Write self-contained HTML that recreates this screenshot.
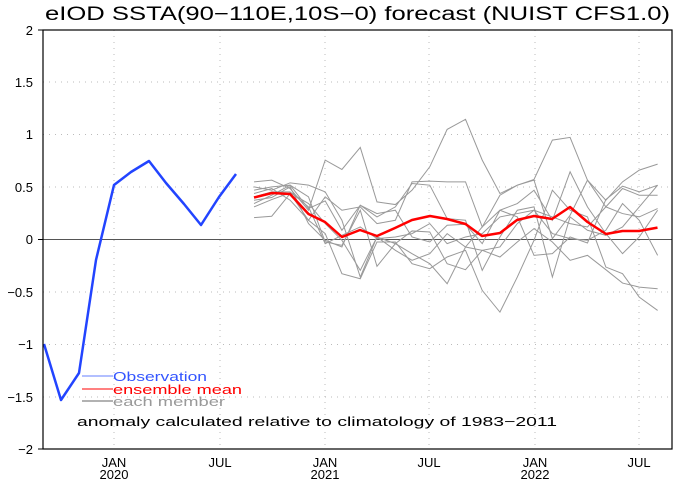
<!DOCTYPE html>
<html><head><meta charset="utf-8"><style>
html,body{margin:0;padding:0;background:#fff;}
svg{display:block;font-family:"Liberation Sans",sans-serif;}
</style></head><body>
<svg width="676" height="479" viewBox="0 0 676 479" xmlns="http://www.w3.org/2000/svg">
<rect width="676" height="479" fill="#fff"/>
<text x="45" y="20" font-size="19" fill="#000" textLength="625" lengthAdjust="spacingAndGlyphs">eIOD SSTA(90−110E,10S−0) forecast (NUIST CFS1.0)</text>
<g stroke="#bbb" stroke-width="1" stroke-dasharray="1,5">
<line x1="43" y1="82" x2="672" y2="82"/><line x1="43" y1="134.5" x2="672" y2="134.5"/><line x1="43" y1="187" x2="672" y2="187"/>
<line x1="43" y1="292" x2="672" y2="292"/><line x1="43" y1="344.5" x2="672" y2="344.5"/><line x1="43" y1="397" x2="672" y2="397"/>
<line x1="114" y1="30" x2="114" y2="449"/><line x1="220" y1="30" x2="220" y2="449"/><line x1="325" y1="30" x2="325" y2="449"/>
<line x1="429" y1="30" x2="429" y2="449"/><line x1="535" y1="30" x2="535" y2="449"/><line x1="639" y1="30" x2="639" y2="449"/>
</g>
<line x1="43" y1="239.5" x2="672" y2="239.5" stroke="#555" stroke-width="1"/>
<g fill="none" stroke="#999" stroke-width="1" transform="translate(240,110) scale(0.3341)">
<polyline vector-effect="non-scaling-stroke" points="42,215 95,210 150,235 205,300 255,150 305,178 360,112 410,275 465,283 515,240 568,170 620,58 675,28 725,150 778,250 830,225 880,210 935,385 988,315 1040,210 1095,270 1145,215 1195,180 1250,162"/>
<polyline vector-effect="non-scaling-stroke" points="42,322 95,318 150,250 205,330 255,260 305,300 360,290 410,340 465,330 515,215 568,213 620,215 675,215 725,350 778,255 830,225 880,208 935,90 988,82 1040,210 1095,290 1145,235 1195,255 1250,255"/>
<polyline vector-effect="non-scaling-stroke" points="42,230 95,240 150,218 205,225 255,245 305,330 360,500 410,380 465,400 515,430 568,460 620,520 675,410 725,350 778,300 830,280 880,240 935,330 988,185 1040,290 1095,370 1145,430 1195,380 1250,300"/>
<polyline vector-effect="non-scaling-stroke" points="42,270 95,262 150,230 205,340 255,390 305,410 360,285 410,320 465,290 515,220 568,225 620,325 675,330 725,480 778,380 830,300 880,290 935,500 988,320 1040,360 1095,375 1145,350 1195,290 1250,225"/>
<polyline vector-effect="non-scaling-stroke" points="42,250 95,235 150,270 205,330 255,370 305,490 360,505 410,395 465,395 515,460 568,475 620,440 675,420 725,540 778,605 830,500 880,390 935,240 988,300 1040,320 1095,470 1145,490 1195,560 1250,600"/>
<polyline vector-effect="non-scaling-stroke" points="42,290 95,268 150,248 205,280 255,340 305,390 360,480 410,380 465,420 515,450 568,430 620,370 675,410 725,420 778,410 830,340 880,300 935,320 988,340 1040,350 1095,290 1145,310 1195,320 1250,295"/>
<polyline vector-effect="non-scaling-stroke" points="42,240 95,230 150,225 205,260 255,395 305,405 360,300 410,468 465,400 515,362 568,365 620,460 675,478 725,420 778,440 830,395 880,355 935,395 988,450 1040,435 1095,478 1145,518 1195,530 1250,535"/>
<polyline vector-effect="non-scaling-stroke" points="42,280 95,255 150,225 205,295 255,272 305,360 360,285 410,310 465,300 515,380 568,395 620,345 675,342 725,400 778,300 830,320 880,435 935,430 988,380 1040,398 1095,268 1145,228 1195,245 1250,225"/>
<polyline vector-effect="non-scaling-stroke" points="42,260 95,245 150,245 205,290 255,400 305,375 360,350 410,385 465,380 515,370 568,340 620,400 675,380 725,370 778,320 830,310 880,300 935,370 988,385 1040,390 1095,360 1145,280 1195,330 1250,435"/>
</g>
<polyline fill="none" stroke="#ff0000" stroke-width="2.5" stroke-linejoin="round" points="254,197.5 272,193 290,194 308.5,214 325,222 342,237 360,230 377,236 395,228 412,220 430,216 447,219 465.5,224 482,236 500,233 517,220 534,216 552,219 570,207 587.5,222 606,234 622.5,231 639,231 657.5,227.6"/>
<polyline fill="none" stroke="#2244ff" stroke-width="2.5" stroke-linejoin="round" points="44,344 61,400 79,373 96,260 114,185 131,172 149,161 166,183 184,204 201,225 219,197 236,174"/>
<rect x="43" y="30" width="629" height="419" fill="none" stroke="#000" stroke-width="1.2"/>
<g font-size="13" fill="#000" text-anchor="end">
<text x="33" y="35">2</text><text x="33" y="87">1.5</text><text x="33" y="139">1</text><text x="33" y="192">0.5</text>
<text x="33" y="244">0</text><text x="33" y="297">−0.5</text><text x="33" y="349">−1</text><text x="33" y="402">−1.5</text><text x="33" y="454">−2</text>
</g>
<g stroke="#000" stroke-width="1">
<line x1="38" y1="30" x2="43" y2="30"/><line x1="38" y1="239.5" x2="43" y2="239.5"/><line x1="38" y1="449" x2="43" y2="449"/>
</g>
<g font-size="13" fill="#000" text-anchor="middle">
<text x="114" y="467">JAN</text><text x="114" y="479">2020</text>
<text x="220" y="467">JUL</text>
<text x="325" y="467">JAN</text><text x="325" y="479">2021</text>
<text x="429" y="467">JUL</text>
<text x="535" y="467">JAN</text><text x="535" y="479">2022</text>
<text x="639" y="467">JUL</text>
</g>
<line x1="82" y1="376" x2="113" y2="376" stroke="#99aaff" stroke-width="1.5"/>
<line x1="82" y1="389" x2="113" y2="389" stroke="#ff0000" stroke-width="1"/>
<line x1="82" y1="401" x2="113" y2="401" stroke="#999" stroke-width="1.5"/>
<g font-size="13">
<text x="113" y="381" fill="#3355ff" textLength="94" lengthAdjust="spacingAndGlyphs">Observation</text>
<text x="113" y="394" fill="#ff0000" textLength="129" lengthAdjust="spacingAndGlyphs">ensemble mean</text>
<text x="113" y="406" fill="#999" textLength="112" lengthAdjust="spacingAndGlyphs">each member</text>
<text x="77" y="426" fill="#000" textLength="480" lengthAdjust="spacingAndGlyphs">anomaly calculated relative to climatology of 1983−2011</text>
</g>
</svg>
</body></html>
